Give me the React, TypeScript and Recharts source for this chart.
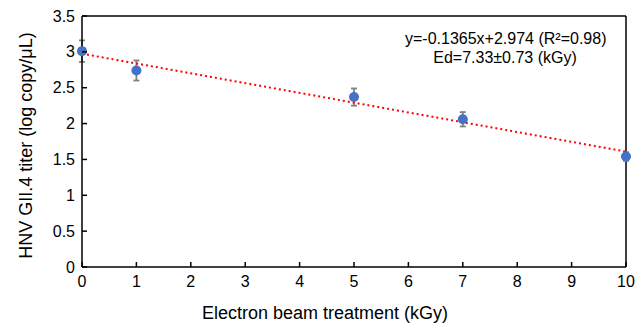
import React from "react";
import {
  ComposedChart,
  Scatter,
  Line,
  XAxis,
  YAxis,
  ErrorBar,
  ReferenceLine,
} from "recharts";

const doses = [0, 1, 5, 7, 10];
const titers = [3.01, 2.74, 2.37, 2.06, 1.54];
const errors = [0.15, 0.14, 0.12, 0.1, 0.06];

const xTicks = [0, 1, 2, 3, 4, 5, 6, 7, 8, 9, 10];
const yTicks = [0, 0.5, 1, 1.5, 2, 2.5, 3, 3.5];

// trend line end points (y=-0.1365x+2.974)
const trendX = [0, 10];
const trendY = [2.974, 1.609];

const points = doses.map((x, i) => ({ x, y: titers[i], err: errors[i] }));
const trend = trendX.map((x, i) => ({ x, y: trendY[i] }));

const FONT = "'Liberation Sans', Arial, sans-serif";

const YTick = (props: any) => {
  const { x, y, payload } = props;
  return (
    <g>
      <line x1={x} x2={x + 5} y1={y} y2={y} stroke="#000" strokeWidth={1.5} />
      <text x={x - 7} y={y} dy={5.5} textAnchor="end" fontSize={16} fill="#000" fontFamily={FONT}>
        {payload.value}
      </text>
    </g>
  );
};

const XTick = (props: any) => {
  const { x, y, payload } = props;
  return (
    <g>
      <line x1={x} x2={x} y1={y} y2={y - 5} stroke="#000" strokeWidth={1.5} />
      <text x={x} y={y} dy={20} textAnchor="middle" fontSize={16} fill="#000" fontFamily={FONT}>
        {payload.value}
      </text>
    </g>
  );
};

const Dot = (props: any) => <circle cx={props.cx} cy={props.cy} r={5} fill="#4472C4" />;

export default function App() {
  return (
    <div style={{ position: "absolute", left: 0, top: 0, width: 638, height: 327, background: "#fff" }}>
      <ComposedChart
        width={638}
        height={327}
        margin={{ top: 16, right: 12, left: 0, bottom: 0 }}
        style={{ fontFamily: FONT }}
      >
        <XAxis
          dataKey="x"
          type="number"
          domain={[0, 10]}
          ticks={xTicks}
          height={60}
          tickSize={0}
          tickMargin={0}
          tickLine={false}
          axisLine={{ stroke: "#000", strokeWidth: 1.5 }}
          tick={<XTick />}
          interval={0}
          label={{
            value: "Electron beam treatment (kGy)",
            position: "insideBottom",
            offset: 8,
            dx: -29,
            style: { fontSize: 18, fill: "#000", fontFamily: FONT },
          }}
        />
        <YAxis
          dataKey="y"
          type="number"
          domain={[0, 3.5]}
          ticks={yTicks}
          width={82}
          tickSize={0}
          tickMargin={0}
          tickLine={false}
          axisLine={{ stroke: "#000", strokeWidth: 1.5 }}
          tick={<YTick />}
          interval={0}
          label={{
            value: "HNV GII.4 titer (log copy/\u03bcL)",
            angle: -90,
            position: "insideLeft",
            offset: 26,
            dy: 4,
            style: { textAnchor: "middle", fontSize: 18, fill: "#000", fontFamily: FONT },
          }}
        />
        <ReferenceLine y={3.5} stroke="#000" strokeWidth={1.5} />
        <ReferenceLine x={10} stroke="#000" strokeWidth={1.5} />
        <Scatter data={points} dataKey="y" shape={<Dot />} isAnimationActive={false}>
          <ErrorBar dataKey="err" direction="y" width={3} stroke="#808080" strokeWidth={1.8} />
        </Scatter>
        <Line
          data={trend}
          dataKey="y"
          type="linear"
          stroke="#FF0000"
          strokeWidth={2}
          strokeDasharray="2 3"
          dot={false}
          activeDot={false}
          isAnimationActive={false}
        />
      </ComposedChart>
      <div
        style={{
          position: "absolute",
          left: 405,
          top: 29,
          width: 200,
          textAlign: "center",
          fontFamily: FONT,
          fontSize: 16,
          lineHeight: "19px",
          color: "#000",
          whiteSpace: "nowrap",
        }}
      >
        <div>y=-0.1365x+2.974 (R²=0.98)</div>
        <div>Ed=7.33±0.73 (kGy)</div>
      </div>
    </div>
  );
}
